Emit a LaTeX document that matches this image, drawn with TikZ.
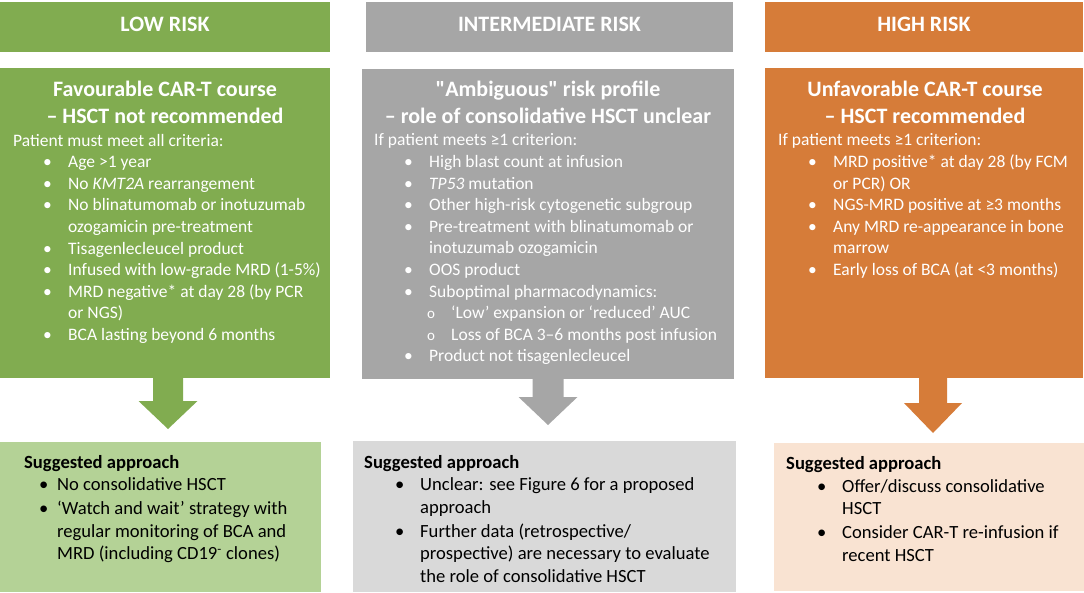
\documentclass[tikz,border=0pt]{standalone}
\usepackage{fontspec}
\setmainfont{Carlito}[Ligatures=TeXOff]
\usetikzlibrary{calc}
\definecolor{cgreen}{RGB}{129,172,80}
\definecolor{cgrey}{RGB}{166,166,166}
\definecolor{corange}{RGB}{214,124,57}
\definecolor{lgreen}{RGB}{180,210,150}
\definecolor{lgrey}{RGB}{217,217,217}
\definecolor{lorange}{RGB}{249,227,210}
\newcommand\bl[1]{\hspace*{30pt}\makebox[25pt][l]{•}#1}
\newcommand\cn[1]{\hspace*{55pt}#1}
\newcommand\sbl[1]{\hspace*{53pt}\makebox[24pt][l]{\fontsize{15}{15}\selectfont o}#1}
\newcommand\bbl[3]{\hspace*{#1}\makebox[#2][l]{•}#3}
\newcommand\bcn[3]{\hspace*{#1}\hspace*{#2}#3}
\newcommand\blockarr[6]{%
 \fill[#6] ($(#1)+(-#3,0)$) -- ($(#1)+(#3,0)$) -- ($(#2)+(#3,-#5)$) -- ($(#2)+(#4,-#5)$) -- (#2) -- ($(#2)+(-#4,-#5)$) -- ($(#2)+(-#3,-#5)$) -- cycle;}
\begin{document}
\begin{tikzpicture}[x=1pt,y=-1pt,
  box/.style={rectangle,inner sep=0pt,outer sep=0pt,anchor=north west,draw=none},
  hdr/.style={font=\fontsize{22}{26}\selectfont\bfseries,text=white,inner sep=0pt},
  ttl/.style={font=\fontsize{22}{27}\selectfont\bfseries,text=white,align=center,inner sep=0pt,anchor=north},
  lst/.style={font=\fontsize{17.5}{21.6}\selectfont,text=white,align=left,inner sep=0pt,anchor=base west},
  blst/.style={font=\fontsize{18.6}{22.5}\selectfont,text=black,align=left,inner sep=0pt,anchor=base west}]
\useasboundingbox[fill=white] (0,0) rectangle (1084,593);
% header boxes
\node[box,fill=cgreen,minimum width=330pt,minimum height=50pt] (g0) at (0,2) {};
\node[box,fill=cgrey,minimum width=367pt,minimum height=50pt] (r0) at (366,2) {};
\node[box,fill=corange,minimum width=318pt,minimum height=50pt] (o0) at (765,2) {};
\node[hdr] (g0t) at ($(g0.center)+(0,-3)$) {LOW RISK};
\node[hdr] (r0t) at ($(r0.center)+(0,-3)$) {INTERMEDIATE RISK};
\node[hdr] (o0t) at ($(o0.center)+(0,-3)$) {HIGH RISK};
% main boxes
\node[box,fill=cgreen,minimum width=330pt,minimum height=310pt] (g1) at (0,68) {};
\node[box,fill=cgrey,minimum width=372pt,minimum height=310pt] (r1) at (362,69) {};
\node[box,fill=corange,minimum width=318pt,minimum height=310pt] (o1) at (765,68) {};
% bottom boxes
\node[box,fill=lgreen,minimum width=321pt,minimum height=150pt] (g2) at (0,442) {};
\node[box,fill=lgrey,minimum width=383pt,minimum height=151pt] (r2) at (353,441) {};
\node[box,fill=lorange,minimum width=310pt,minimum height=148pt] (o2) at (774,443) {};
% titles
\node[ttl] (g1t) at (165,80.5) {Favourable CAR-T course\\– HSCT not recommended};
\node[ttl] (r1t) at (548,80.5) {"Ambiguous" risk profile\\– role of consolidative HSCT unclear};
\node[ttl] (o1t) at (925,80.5) {Unfavorable CAR-T course\\– HSCT recommended};
% lists (anchor = baseline of last line)
\node[lst] (g1l) at (13,340.5) {Patient must meet all criteria:\\
\bl{Age >1 year}\\
\bl{No \textit{KMT2A} rearrangement}\\
\bl{No blinatumomab or inotuzumab}\\
\cn{ozogamicin pre-treatment}\\
\bl{Tisagenlecleucel product}\\
\bl{Infused with low-grade MRD (1-5\%)}\\
\bl{MRD negative* at day 28 (by PCR}\\
\cn{or NGS)}\\
\bl{BCA lasting beyond 6 months}};
\node[lst] (r1l) at (374,362) {If patient meets ≥1 criterion:\\
\bl{High blast count at infusion}\\
\bl{\textit{TP53} mutation}\\
\bl{Other high-risk cytogenetic subgroup}\\
\bl{Pre-treatment with blinatumomab or}\\
\cn{inotuzumab ozogamicin}\\
\bl{OOS product}\\
\bl{Suboptimal pharmacodynamics:}\\
\sbl{‘Low’ expansion or ‘reduced’ AUC}\\
\sbl{Loss of BCA 3–6 months post infusion}\\
\bl{Product not tisagenlecleucel}};
\node[lst] (o1l) at (778,275.5) {If patient meets ≥1 criterion:\\
\bl{MRD positive* at day 28 (by FCM}\\
\cn{or PCR) OR}\\
\bl{NGS-MRD positive at ≥3 months}\\
\bl{Any MRD re-appearance in bone}\\
\cn{marrow}\\
\bl{Early loss of BCA (at <3 months)}};
% bottom lists (anchor = baseline of last line)
\node[blst] (g2l) at (24,559.5) {\textbf{Suggested approach}\\
\bbl{15pt}{18pt}{No consolidative HSCT}\\[1.5pt]
\bbl{15pt}{18pt}{‘Watch and wait’ strategy with}\\
\bcn{15pt}{18pt}{regular monitoring of BCA and}\\
\bcn{15pt}{18pt}{MRD (including CD19\textsuperscript{-} clones)}};
\node[blst] (r2l) at (364,582) {\textbf{Suggested approach}\\
\bbl{31pt}{25pt}{Unclear: see Figure 6 for a proposed}\\
\bcn{31pt}{25pt}{approach}\\[1.5pt]
\bbl{31pt}{25pt}{Further data (retrospective/}\\
\bcn{31pt}{25pt}{prospective) are necessary to evaluate}\\
\bcn{31pt}{25pt}{the role of consolidative HSCT}};
\node[blst] (o2l) at (786,561) {\textbf{Suggested approach}\\
\bbl{31pt}{25pt}{Offer/discuss consolidative}\\
\bcn{31pt}{25pt}{HSCT}\\[1.5pt]
\bbl{31pt}{25pt}{Consider CAR-T re-infusion if}\\
\bcn{31pt}{25pt}{recent HSCT}};
% block arrows
\coordinate (ga) at ($(g1.south)+(3,0)$);
\coordinate (gt) at ($(g2.north)+(7.5,-13)$);
\coordinate (ra) at ($(r1.south)+(0,0)$);
\coordinate (rt) at ($(r2.north)+(3.5,-16)$);
\coordinate (oa) at ($(o1.south)+(9,0)$);
\coordinate (ot) at ($(o2.north)+(4,-10)$);
\blockarr{ga}{gt}{15}{29.5}{28}{cgreen}
\blockarr{ra}{rt}{15.5}{29.5}{28}{cgrey}
\blockarr{oa}{ot}{14}{29}{30}{corange}
\end{tikzpicture}
\end{document}
